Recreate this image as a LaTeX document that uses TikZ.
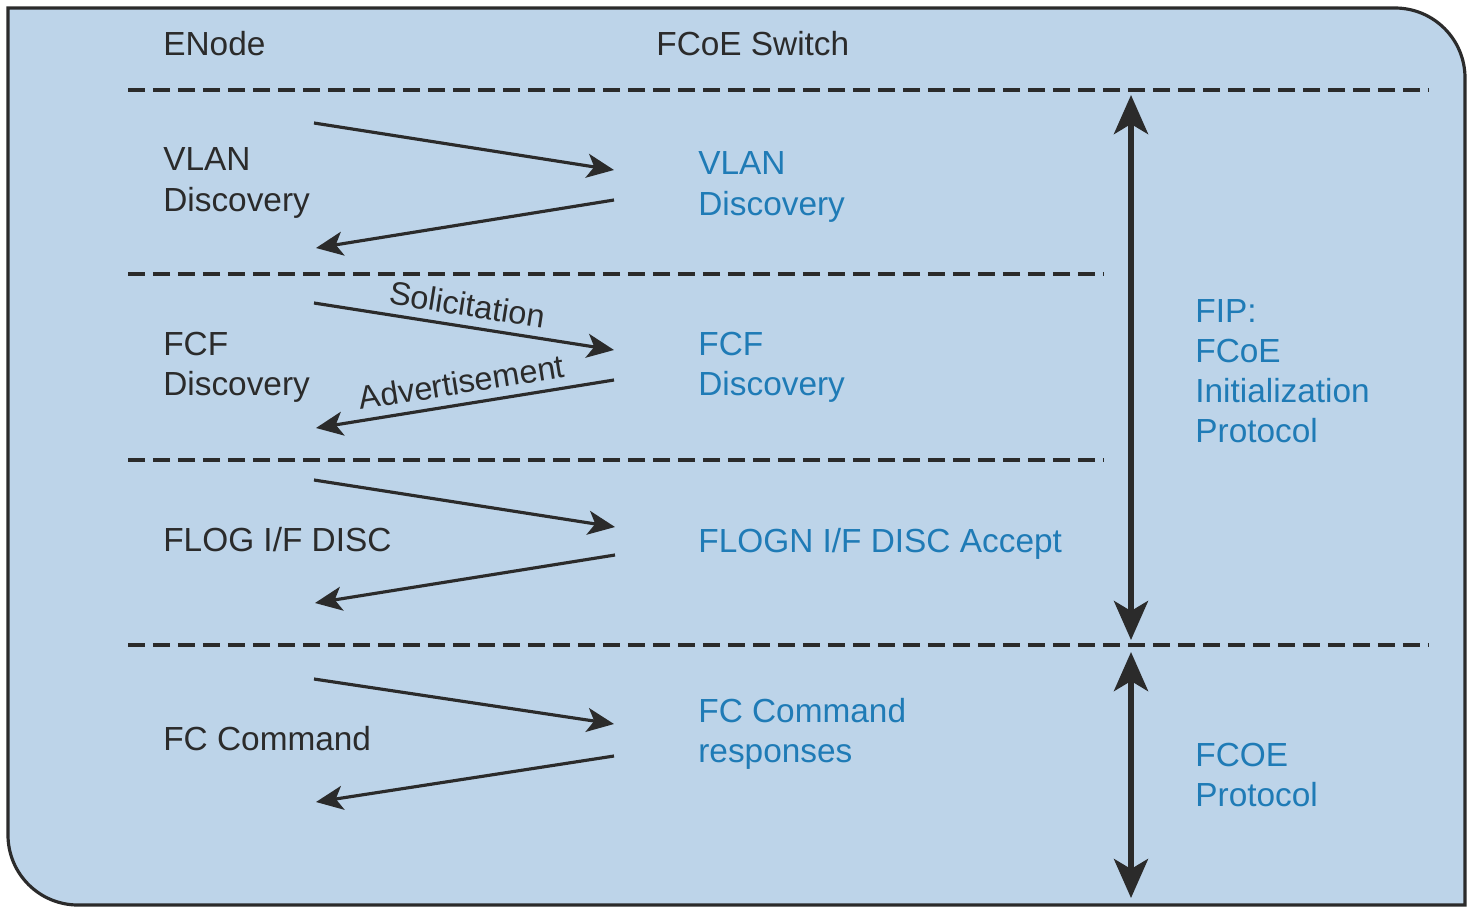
\documentclass[tikz,border=0pt]{standalone}
\usepackage{fontspec}
\setmainfont{Liberation Sans}
\usetikzlibrary{arrows.meta}

\definecolor{panel}{HTML}{BDD4E9}
\definecolor{fcblue}{HTML}{1F7BB6}
\definecolor{ink}{HTML}{2B2B2B}

\begin{document}
\begin{tikzpicture}[
    x=0.02cm, y=-0.02cm,
    >={Stealth[length=5.4mm, width=4.8mm, inset=1.4mm]},
    txt/.style  ={inner sep=0pt, anchor=west, align=left, text=ink, font=\fontsize{19pt}{22.8pt}\selectfont},
    sw/.style   ={txt, text=fcblue},
    msg/.style  ={->, line width=1.8pt, draw=ink},
    sep/.style  ={line width=2pt, draw=ink, dash pattern=on 0.34cm off 0.16cm},
    span/.style ={{Stealth[length=7.8mm, width=6.8mm, inset=2mm]}-{Stealth[length=7.8mm, width=6.8mm, inset=2mm]}, line width=3.2pt, draw=ink},
    tag/.style  ={font=\fontsize{18.5pt}{22pt}\selectfont, text=ink, midway, above, sloped, inner sep=5pt},
]
\useasboundingbox (0,0) rectangle (1470,907);

% panel
\draw[line width=1.8pt, draw=ink, fill=panel] (8,8) -- (1395,8)
    .. controls (1433.7,8) and (1465,39.3) .. (1465,78) -- (1465,905) -- (78,905)
    .. controls (39.3,905) and (8,873.7) .. (8,835) -- cycle;

% headers
\node[txt] (enode) at (163,44) {ENode};
\node[txt] (fcsw)  at (656,44) {FCoE Switch};

% phase separators
\draw[sep] (128,90)  -- (1428,90);
\draw[sep] (128,274) -- (1103,274);
\draw[sep] (128,460) -- (1103,460);
\draw[sep] (128,645) -- (1428,645);

% ENode side
\node[txt] (vlan-en) at (163,183) {VLAN\\Discovery};
\node[txt] (fcf-en)  at (163,367) {FCF\\Discovery};
\node[txt] (flog-en) at (163,540) {FLOG I/F DISC};
\node[txt] (cmd-en)  at (163,739) {FC Command};

% switch side
\node[sw] (vlan-sw) at (698,187) {VLAN\\Discovery};
\node[sw] (fcf-sw)  at (698,367) {FCF\\Discovery};
\node[sw] (flog-sw) at (698,544) {FLOGN I/F DISC Accept};
\node[sw] (cmd-sw)  at (698,734) {FC Command\\responses};

% protocol labels
\node[sw] (fip)  at (1195,371) {FIP:\\FCoE\\Initialization\\Protocol};
\node[sw] (fcoe) at (1195,775) {FCOE\\Protocol};

% message end points
\coordinate (req1-a) at (314,123); \coordinate (req1-b) at (614,170);
\coordinate (rsp1-a) at (614,200); \coordinate (rsp1-b) at (316,248);
\coordinate (req2-a) at (314,303); \coordinate (req2-b) at (614,350);
\coordinate (rsp2-a) at (614,380); \coordinate (rsp2-b) at (316,428);
\coordinate (req3-a) at (314,480); \coordinate (req3-b) at (615,527);
\coordinate (rsp3-a) at (615,555); \coordinate (rsp3-b) at (315,603);
\coordinate (req4-a) at (314,679); \coordinate (req4-b) at (614,724);
\coordinate (rsp4-a) at (614,756); \coordinate (rsp4-b) at (316,802);

\draw[msg] (req1-a) -- (req1-b);
\draw[msg] (rsp1-a) -- (rsp1-b);
\draw[msg] (req2-a) -- node[tag] {Solicitation} (req2-b);
\draw[msg] (rsp2-a) -- node[tag] {Advertisement} (rsp2-b);
\draw[msg] (req3-a) -- (req3-b);
\draw[msg] (rsp3-a) -- (rsp3-b);
\draw[msg] (req4-a) -- (req4-b);
\draw[msg] (rsp4-a) -- (rsp4-b);

% protocol spans
\coordinate (fip-top)  at (1131,95);
\coordinate (fip-bot)  at (1131,640);
\coordinate (fcoe-top) at (1131,652);
\coordinate (fcoe-bot) at (1131,898);

\draw[span] (fip-top)  -- (fip-bot);
\draw[span] (fcoe-top) -- (fcoe-bot);

\end{tikzpicture}
\end{document}
